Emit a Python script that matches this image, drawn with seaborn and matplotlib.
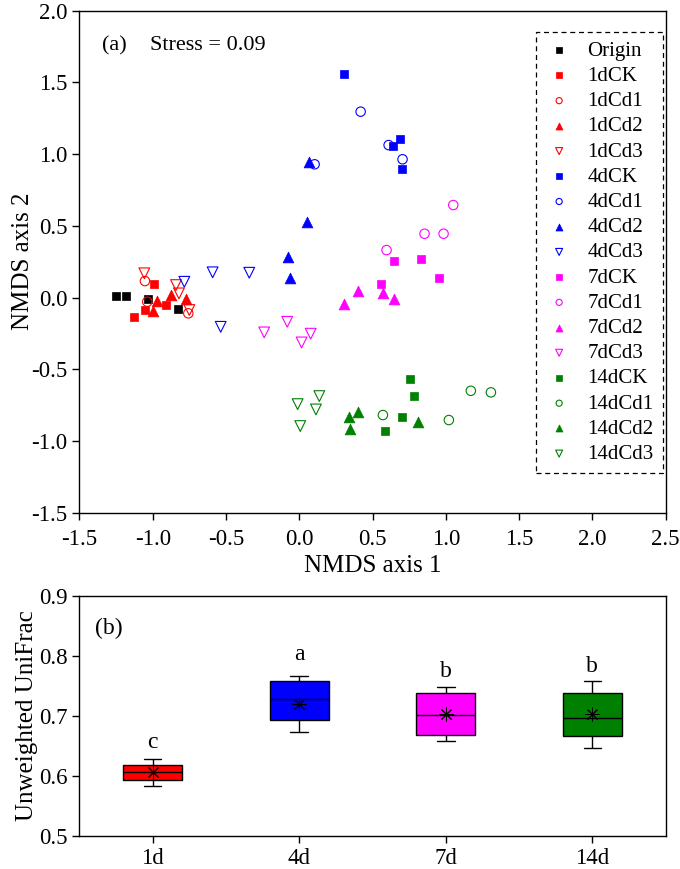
import matplotlib
matplotlib.use("Agg")
import matplotlib.pyplot as plt
import seaborn as sns
import pandas as pd

# ---------------- NMDS data (panel a) ----------------
groups = ["Origin", "1dCK", "1dCd1", "1dCd2", "1dCd3",
          "4dCK", "4dCd1", "4dCd2", "4dCd3",
          "7dCK", "7dCd1", "7dCd2", "7dCd3",
          "14dCK", "14dCd1", "14dCd2", "14dCd3"]

origin_x = [-1.252, -1.184, -1.030, -0.825]
origin_y = [0.013, 0.008, -0.013, -0.082]
d1CK_x = [-0.993, -1.053, -0.911, -1.128]
d1CK_y = [0.092, -0.087, -0.054, -0.138]
d1Cd1_x = [-1.053, -1.037, -0.757]
d1Cd1_y = [0.115, -0.029, -0.110]
d1Cd2_x = [-0.969, -0.877, -0.775, -0.996]
d1Cd2_y = [-0.024, 0.015, -0.013, -0.094]
d1Cd3_x = [-1.057, -0.841, -0.821, -0.750]
d1Cd3_y = [0.169, 0.087, 0.029, -0.087]
d4CK_x = [0.305, 0.689, 0.641, 0.700]
d4CK_y = [1.556, 1.103, 1.056, 0.898]
d4Cd1_x = [0.419, 0.610, 0.705, 0.105]
d4Cd1_y = [1.296, 1.063, 0.964, 0.929]
d4Cd2_x = [0.068, 0.055, -0.077, -0.063]
d4Cd2_y = [0.947, 0.529, 0.285, 0.136]
d4Cd3_x = [-0.591, -0.341, -0.536, -0.784]
d4Cd3_y = [0.176, 0.173, -0.204, 0.110]
d7CK_x = [0.832, 0.951, 0.648, 0.555]
d7CK_y = [0.268, 0.136, 0.257, 0.092]
d7Cd1_x = [1.051, 0.855, 0.985, 0.596]
d7Cd1_y = [0.645, 0.445, 0.445, 0.331]
d7Cd2_x = [0.305, 0.402, 0.573, 0.648]
d7Cd2_y = [-0.045, 0.043, 0.034, -0.013]
d7Cd3_x = [-0.239, -0.082, 0.016, 0.078]
d7Cd3_y = [-0.243, -0.169, -0.313, -0.252]
d14CK_x = [0.753, 0.782, 0.703, 0.582]
d14CK_y = [-0.571, -0.685, -0.831, -0.929]
d14Cd1_x = [1.171, 1.308, 0.571, 1.021]
d14Cd1_y = [-0.650, -0.661, -0.819, -0.854]
d14Cd2_x = [0.398, 0.341, 0.348, 0.808]
d14Cd2_y = [-0.801, -0.836, -0.919, -0.866]
d14Cd3_x = [0.137, -0.011, 0.114, 0.007]
d14Cd3_y = [-0.687, -0.743, -0.780, -0.896]

xs = [origin_x, d1CK_x, d1Cd1_x, d1Cd2_x, d1Cd3_x, d4CK_x, d4Cd1_x, d4Cd2_x, d4Cd3_x,
      d7CK_x, d7Cd1_x, d7Cd2_x, d7Cd3_x, d14CK_x, d14Cd1_x, d14Cd2_x, d14Cd3_x]
ys = [origin_y, d1CK_y, d1Cd1_y, d1Cd2_y, d1Cd3_y, d4CK_y, d4Cd1_y, d4Cd2_y, d4Cd3_y,
      d7CK_y, d7Cd1_y, d7Cd2_y, d7Cd3_y, d14CK_y, d14Cd1_y, d14Cd2_y, d14Cd3_y]

# ---------------- Box data (panel b): five-number summaries ----------------
days = ["1d", "4d", "7d", "14d"]
whisker_low = [0.584, 0.674, 0.658, 0.646]
q1 = [0.593, 0.693, 0.668, 0.667]
median = [0.607, 0.728, 0.701, 0.696]
q3 = [0.618, 0.758, 0.739, 0.739]
whisker_high = [0.628, 0.767, 0.748, 0.758]
means = [0.607, 0.720, 0.703, 0.703]
letters = ["c", "a", "b", "b"]
letter_y = [0.646, 0.793, 0.7645, 0.774]

# ---------------- styling ----------------
sns.set_style("ticks")
plt.rcParams["font.family"] = ["Liberation Serif", "DejaVu Serif"]
plt.rcParams["mathtext.fontset"] = "stix"
plt.rcParams["text.color"] = "black"
plt.rcParams["axes.labelcolor"] = "black"
plt.rcParams["xtick.color"] = "black"
plt.rcParams["ytick.color"] = "black"

col_map = {"Origin": "black", "1d": "#ff0000", "4d": "#0000ff", "7d": "#ff00ff", "14d": "#008000"}
day_colors = [col_map[d] for d in days]

fig = plt.figure(figsize=(6.8, 8.69), dpi=100)
ax1 = fig.add_axes([0.1168, 0.41, 0.862, 0.5777])
ax2 = fig.add_axes([0.1168, 0.038, 0.862, 0.2762])

TICK_FS = 16.5
LABEL_FS = 18

for g, gx, gy in zip(groups, xs, ys):
    if g == "Origin":
        color, kind = col_map["Origin"], "CK"
    else:
        d = g.split("dC")[0] + "d"
        color = col_map[d]
        kind = g[len(d):]
    df = pd.DataFrame({"x": gx, "y": gy})
    if kind == "CK":
        sns.scatterplot(data=df, x="x", y="y", ax=ax1, marker="s", s=34,
                        color=color, edgecolor=color, linewidth=0.5, label=g)
    elif kind == "Cd1":
        sns.scatterplot(data=df, x="x", y="y", ax=ax1, marker="o", s=46,
                        color=color, facecolor="none", edgecolor=color, linewidth=0.8, label=g)
    elif kind == "Cd2":
        sns.scatterplot(data=df, x="x", y="y", ax=ax1, marker="^", s=60,
                        color=color, edgecolor=color, linewidth=0.5, label=g)
    else:
        sns.scatterplot(data=df, x="x", y="y", ax=ax1, marker="v", s=60,
                        color=color, facecolor="none", edgecolor=color, linewidth=0.8, label=g)

ax1.set_xlim(-1.5, 2.5)
ax1.set_ylim(-1.5, 2.0)
ax1.set_xticks([-1.5, -1.0, -0.5, 0.0, 0.5, 1.0, 1.5, 2.0, 2.5])
ax1.set_yticks([-1.5, -1.0, -0.5, 0.0, 0.5, 1.0, 1.5, 2.0])
ax1.set_xticklabels([f"{v:.1f}" for v in ax1.get_xticks()])
ax1.set_yticklabels([f"{v:.1f}" for v in ax1.get_yticks()])
ax1.set_xlabel("NMDS axis 1", fontsize=LABEL_FS, labelpad=3)
ax1.set_ylabel("NMDS axis 2", fontsize=LABEL_FS, labelpad=-2)
ax1.text(-1.348, 1.726, "(a)", fontsize=16, ha="left", va="baseline")
ax1.text(-1.018, 1.726, "Stress = 0.09", fontsize=16, ha="left", va="baseline")

leg = ax1.legend(loc="upper right", bbox_to_anchor=(0.9954, 0.958), borderaxespad=0,
                 fontsize=15, frameon=True, fancybox=False, framealpha=1,
                 edgecolor="black", markerscale=0.65, handlelength=1.3,
                 handletextpad=0.7, labelspacing=0.27, borderpad=0.45)
leg.get_frame().set_linestyle((0, (4, 3)))
leg.get_frame().set_linewidth(0.9)

# ---------------- box plot ----------------
box_df = pd.DataFrame({
    "day": [d for d in days for _ in range(5)],
    "value": [v for i in range(len(days)) for v in
              (whisker_low[i], q1[i], median[i], q3[i], whisker_high[i])],
})
sns.boxplot(data=box_df, x="day", y="value", hue="day", order=days, hue_order=days,
            palette=day_colors, saturation=1, width=0.4, linecolor="black",
            linewidth=1.0, legend=False, ax=ax2, showfliers=False)
# shorten caps
for ln in ax2.lines:
    xd, yd = ln.get_xdata(), ln.get_ydata()
    if len(xd) == 2 and abs(yd[0] - yd[1]) < 1e-9 and abs(abs(xd[1] - xd[0]) - 0.2) < 1e-6:
        c = (xd[0] + xd[1]) / 2
        ln.set_xdata([c - 0.06, c + 0.06])

sns.pointplot(x=days, y=means, order=days, linestyle="none", color="black",
              marker=(8, 2, 0), markersize=10, markeredgewidth=0.7, errorbar=None, ax=ax2)

for i, (lt, ly) in enumerate(zip(letters, letter_y)):
    ax2.text(i, ly, lt, fontsize=17, ha="center", va="baseline")
ax2.text(-0.393, 0.8367, "(b)", fontsize=17, ha="left", va="baseline")

ax2.set_xlim(-0.5, 3.5)
ax2.set_ylim(0.5, 0.9)
ax2.set_yticks([0.5, 0.6, 0.7, 0.8, 0.9])
ax2.set_yticklabels([f"{v:.1f}" for v in ax2.get_yticks()])
ax2.set_xticks(range(len(days)))
ax2.set_xticklabels(days)
ax2.set_xlabel("")
ax2.set_ylabel("Unweighted UniFrac", fontsize=LABEL_FS, labelpad=1)

for ax in (ax1, ax2):
    for sp in ax.spines.values():
        sp.set_visible(True)
        sp.set_linewidth(1.0)
        sp.set_color("black")
    ax.tick_params(axis="both", which="major", labelsize=TICK_FS, length=5, width=1.0,
                   direction="out", top=False, right=False, colors="black")
ax1.tick_params(axis="x", pad=7)

fig.savefig("out.png", dpi=100)
